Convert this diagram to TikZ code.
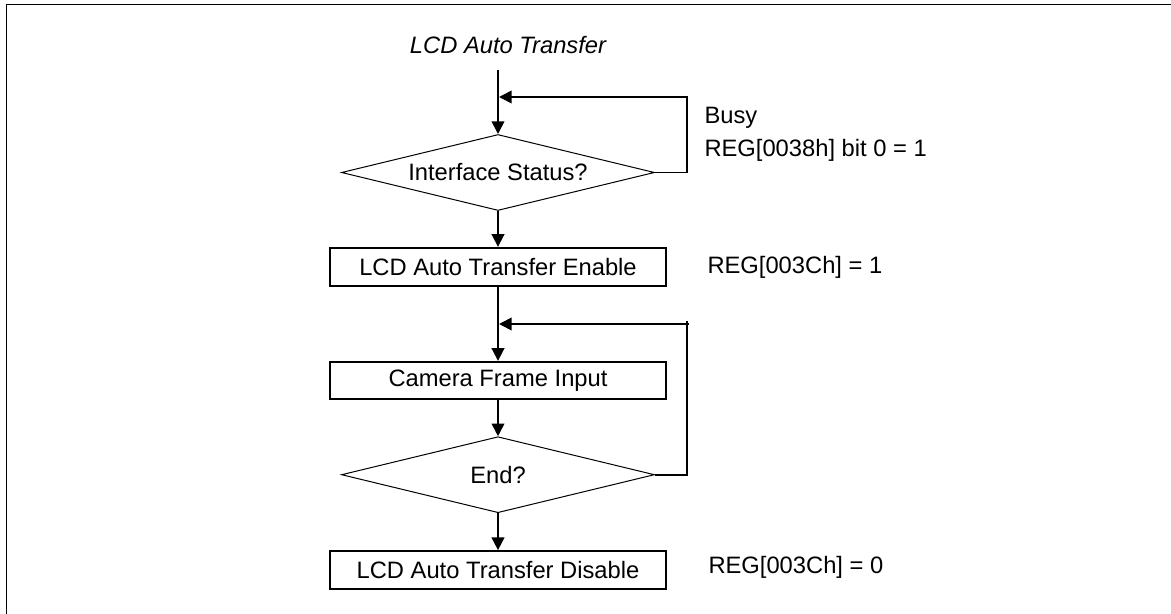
\documentclass[tikz,border=0pt]{standalone}
\usepackage{fontspec}
\setmainfont{Liberation Sans}
\usetikzlibrary{arrows.meta,shapes.geometric}

\tikzset{every picture/.style={line width=0.75pt}}
\tikzset{
  procbox/.style={draw,line width=1.3pt,minimum width=252pt,minimum height=28.5pt,inner sep=0pt},
  decision/.style={draw,diamond,line width=0.75pt,minimum width=234.75pt,minimum height=57pt,shape aspect=4.1,inner sep=0pt},
  flowline/.style={line width=1.3pt},
  flowarrow/.style={flowline,-{Triangle[length=9.5pt,width=9.5pt]}},
  sidenote/.style={anchor=west,inner sep=0.75pt}
}

\begin{document}
\begin{tikzpicture}[x=0.75pt,y=0.75pt,yscale=-1,xscale=1,font=\fontsize{17.8}{21}\selectfont]
\useasboundingbox (0,0) rectangle (1171,614);

%Straight Lines: frame
\draw [line width=1pt] (6.5,614) -- (6.5,4.5) -- (1171,4.5) ;

% Text Node
\node (title) at (508,45) [inner sep=0.75pt] {\itshape LCD Auto Transfer};

%Shape: Diamond
\node (ifstat) at (498,172.5) [decision] {Interface Status?};
%Shape: Rectangle
\node (atenable) at (498,266.7) [procbox] {LCD Auto Transfer Enable};
%Shape: Rectangle
\node (caminput) at (498,380.2) [procbox,minimum height=27.75pt] {Camera Frame Input};
%Shape: Diamond
\node (endq) at (498,474.7) [decision] {End?};
%Shape: Rectangle
\node (atdisable) at (498,570) [procbox] {LCD Auto Transfer Disable};

% Text Node
\node (busy) at (703,118) [sidenote] {Busy};
% Text Node
\node (busyreg) at (703,150) [sidenote] {REG[0038h] bit 0 = 1};
% Text Node
\node (enreg) at (706,267) [sidenote] {REG[003Ch] = 1};
% Text Node
\node (disreg) at (707,567) [sidenote] {REG[003Ch] = 0};

%Coordinates for the loops
\coordinate (entry) at (498,70);
\coordinate (busyturn) at (687,97);
\coordinate (busyjoin) at (499,97);
\coordinate (looptop) at (687,320.5);
\coordinate (loopstart) at (688.5,324);
\coordinate (loopjoin) at (499,324);

%Straight Lines
\draw [flowarrow] (entry) -- (ifstat.north) ;
\draw [flowarrow] (ifstat.east) -| (busyturn) -- (busyjoin) ;
\draw [flowarrow] (ifstat.south) -- (atenable.north) ;
\draw [flowarrow] (atenable.south) -- (caminput.north) ;
\draw [flowarrow] (caminput.south) -- (endq.north) ;
\draw [flowline] (endq.east) -| (looptop) ;
\draw [flowarrow] (loopstart) -- (loopjoin) ;
\draw [flowarrow] (endq.south) -- (atdisable.north) ;

\end{tikzpicture}
\end{document}
